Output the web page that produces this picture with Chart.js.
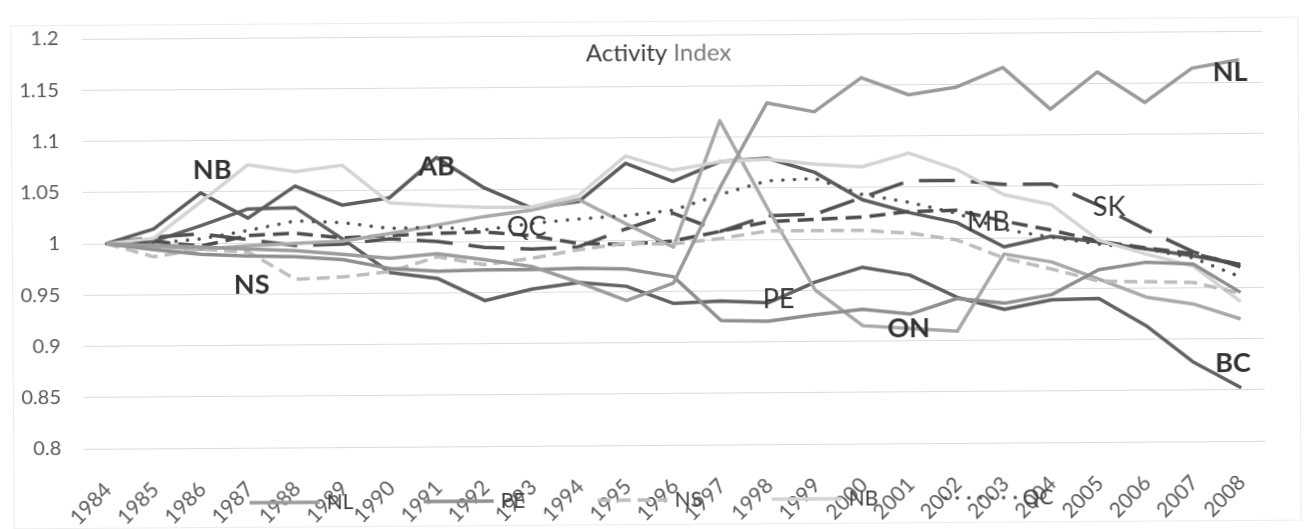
<!DOCTYPE html>
<html>
<head>
<meta charset="utf-8">
<script src="https://cdn.jsdelivr.net/npm/chart.js@4.4.1/dist/chart.umd.min.js"></script>
<style>
  html, body { margin: 0; padding: 0; background: #ffffff; overflow: hidden; }
  canvas { display: block; transform: rotate(-0.39deg); transform-origin: 50% 50%; }
</style>
</head>
<body>
<canvas id="chart" width="1306" height="529"></canvas>
<script>
// Activity index by province, 1984 = 1
const years = ['1984','1985','1986','1987','1988','1989','1990','1991','1992','1993','1994','1995','1996',
               '1997','1998','1999','2000','2001','2002','2003','2004','2005','2006','2007','2008'];

const NL = [1.000, 0.998, 0.996, 0.994, 0.992, 0.988, 0.984, 0.988, 0.982, 0.975, 0.959, 0.941, 0.958,
            1.051, 1.133, 1.124, 1.157, 1.140, 1.147, 1.166, 1.125, 1.161, 1.131, 1.164, 1.172];
const PE = [1.000, 0.994, 0.989, 0.987, 0.986, 0.983, 0.974, 0.971, 0.972, 0.972, 0.973, 0.972, 0.964,
            0.921, 0.920, 0.926, 0.931, 0.926, 0.941, 0.936, 0.944, 0.968, 0.975, 0.973, 0.945];
const NS = [1.000, 0.987, 0.994, 0.991, 0.964, 0.966, 0.971, 0.985, 0.977, 0.983, 0.991, 0.997, 0.996,
            1.001, 1.008, 1.008, 1.008, 1.005, 0.998, 0.980, 0.969, 0.957, 0.956, 0.955, 0.944];
const NB = [1.000, 1.005, 1.040, 1.076, 1.069, 1.075, 1.038, 1.035, 1.033, 1.033, 1.044, 1.082, 1.068,
            1.076, 1.078, 1.073, 1.070, 1.083, 1.067, 1.042, 1.032, 0.997, 0.983, 0.971, 0.936];
const QC = [1.000, 1.000, 1.004, 1.012, 1.021, 1.019, 1.013, 1.014, 1.011, 1.017, 1.021, 1.024, 1.029,
            1.044, 1.057, 1.059, 1.043, 1.035, 1.024, 1.008, 1.000, 0.993, 0.988, 0.979, 0.960];
const ON = [1.000, 0.997, 0.994, 0.997, 0.999, 1.001, 1.008, 1.016, 1.024, 1.030, 1.040, 1.016, 0.993,
            1.116, 1.030, 0.950, 0.915, 0.912, 0.909, 0.984, 0.976, 0.959, 0.941, 0.934, 0.919];
const MB = [1.000, 1.002, 0.997, 1.007, 1.009, 1.004, 1.006, 1.008, 1.009, 1.005, 0.997, 0.996, 0.999,
            1.008, 1.017, 1.019, 1.021, 1.026, 1.027, 1.016, 1.007, 0.996, 0.989, 0.983, 0.972];
const SK = [1.000, 1.006, 1.009, 1.003, 0.997, 0.998, 1.003, 1.000, 0.994, 0.992, 0.994, 1.011, 1.026,
            1.008, 1.023, 1.024, 1.040, 1.056, 1.056, 1.052, 1.052, 1.031, 1.007, 0.985, 0.970];
const AB = [1.000, 1.014, 1.049, 1.024, 1.055, 1.036, 1.043, 1.082, 1.052, 1.032, 1.038, 1.075, 1.057,
            1.076, 1.079, 1.065, 1.038, 1.025, 1.015, 0.991, 1.001, 0.995, 0.988, 0.981, 0.972];
const BC = [1.000, 1.002, 1.017, 1.033, 1.034, 1.003, 0.970, 0.964, 0.942, 0.953, 0.959, 0.955, 0.938,
            0.940, 0.938, 0.958, 0.972, 0.964, 0.942, 0.930, 0.939, 0.940, 0.913, 0.877, 0.852];

// Province tags written beside the lines (year, index value)
const tags = [
  { text: 'NB', year: 1986.25, value: 1.071, bold: true },
  { text: 'AB', year: 1991.00, value: 1.073, bold: true },
  { text: 'QC', year: 1992.90, value: 1.013, bold: false },
  { text: 'NS', year: 1987.07, value: 0.959, bold: true },
  { text: 'PE', year: 1998.22, value: 0.941, bold: false },
  { text: 'ON', year: 2000.97, value: 0.912, bold: true },
  { text: 'MB', year: 2002.67, value: 1.015, bold: false },
  { text: 'SK', year: 2005.23, value: 1.029, bold: false },
  { text: 'NL', year: 2007.81, value: 1.160, bold: true },
  { text: 'BC', year: 2007.83, value: 0.876, bold: true }
];

const FONT = 'Lato, "Open Sans", sans-serif';

function series(label, data, color, dash, cap) {
  return {
    label, data,
    borderColor: color,
    backgroundColor: color,
    borderWidth: 3.5,
    borderDash: dash || [],
    borderCapStyle: cap || 'butt',
    borderJoinStyle: 'round',
    pointRadius: 0,
    pointHoverRadius: 0,
    tension: 0,
    fill: false
  };
}

const datasets = [
  series('NL', NL, '#9b9b9b'),
  series('PE', PE, '#8f8f8f'),
  series('NS', NS, '#bdbdbd', [13, 7]),
  series('NB', NB, '#d4d4d4'),
  series('QC', QC, '#505050', [0.1, 11.5], 'round'),
  series('ON', ON, '#a9a9a9'),
  series('MB', MB, '#4d4d4d', [16, 8]),
  series('SK', SK, '#525252', [36, 16]),
  series('AB', AB, '#5c5c5c'),
  series('BC', BC, '#626262')
];

// white page with a faint outer frame
const frame = {
  id: 'frame',
  beforeDraw(chart) {
    const ctx = chart.ctx;
    ctx.save();
    ctx.fillStyle = '#ffffff';
    ctx.fillRect(0, 0, chart.width, chart.height);
    ctx.strokeStyle = '#ececec';
    ctx.lineWidth = 1;
    ctx.strokeRect(12.5, 21.5, chart.width - 19, chart.height - 26);
    ctx.restore();
  }
};

// two-tone title inside the plot
const title = {
  id: 'twoToneTitle',
  afterDraw(chart) {
    const ctx = chart.ctx;
    const a = 'Activity', b = ' Index';
    ctx.save();
    ctx.font = '24px ' + FONT;
    ctx.textBaseline = 'middle';
    const wa = ctx.measureText(a).width, wb = ctx.measureText(b).width;
    const cx = chart.width / 2 + 7;
    const y = chart.chartArea.top + 18;
    const x = cx - (wa + wb) / 2;
    ctx.textAlign = 'left';
    ctx.fillStyle = '#3c3c3c';
    ctx.fillText(a, x, y);
    ctx.fillStyle = '#7a7a7a';
    ctx.fillText(b, x + wa, y);
    ctx.restore();
  }
};

// province tags placed through the chart scales
const tagPlugin = {
  id: 'tags',
  afterDatasetsDraw(chart) {
    const ctx = chart.ctx;
    const xs = chart.scales.x, ys = chart.scales.y;
    ctx.save();
    ctx.textAlign = 'center';
    ctx.textBaseline = 'middle';
    tags.forEach(t => {
      const x = xs.getPixelForValue(t.year - Number(years[0]));
      const y = ys.getPixelForValue(t.value);
      ctx.font = (t.bold ? 'bold ' : '') + '27px ' + FONT;
      ctx.fillStyle = t.bold ? '#333333' : '#383838';
      ctx.fillText(t.text, x, y);
    });
    ctx.restore();
  }
};

// legend row (first five provinces) sitting over the year labels
const legendRow = {
  id: 'legendRow',
  afterDraw(chart) {
    const ctx = chart.ctx;
    const shown = chart.data.datasets.slice(0, 5);
    const startX = 248, step = 174, y = 500, len = 70;
    ctx.save();
    shown.forEach((ds, i) => {
      const x0 = startX + i * step;
      ctx.beginPath();
      ctx.strokeStyle = ds.borderColor;
      ctx.lineWidth = ds.borderWidth;
      ctx.lineCap = ds.borderCapStyle;
      ctx.setLineDash(ds.borderDash);
      ctx.moveTo(x0, y);
      ctx.lineTo(x0 + len, y);
      ctx.stroke();
      ctx.setLineDash([]);
      ctx.font = '21px ' + FONT;
      ctx.fillStyle = '#404040';
      ctx.textAlign = 'left';
      ctx.textBaseline = 'middle';
      ctx.fillText(ds.label, x0 + len + 7, y);
    });
    ctx.restore();
  }
};

new Chart(document.getElementById('chart'), {
  type: 'line',
  data: { labels: years, datasets },
  plugins: [frame, title, tagPlugin, legendRow],
  options: {
    responsive: false,
    animation: false,
    devicePixelRatio: 1,
    layout: { padding: { top: 35, right: 42, bottom: 0, left: 18 } },
    plugins: {
      legend: { display: false },
      title: { display: false },
      tooltip: { enabled: false }
    },
    scales: {
      x: {
        offset: true,
        grid: { display: false, drawTicks: false },
        border: { display: false },
        afterFit: s => { s.height = 84; s.paddingLeft = 0; s.paddingRight = 0; },
        ticks: {
          color: '#595959',
          font: { family: FONT, size: 21 },
          minRotation: 45,
          maxRotation: 45,
          padding: 29,
          autoSkip: false
        }
      },
      y: {
        min: 0.8,
        max: 1.2,
        grid: { color: '#dcdcdc', lineWidth: 1, drawTicks: false },
        border: { display: false },
        afterFit: s => { s.width = 65; },
        ticks: {
          stepSize: 0.05,
          color: '#595959',
          font: { family: FONT, size: 20 },
          padding: 23,
          callback: v => String(Number(v.toFixed(2)))
        }
      }
    }
  }
});
</script>
</body>
</html>
